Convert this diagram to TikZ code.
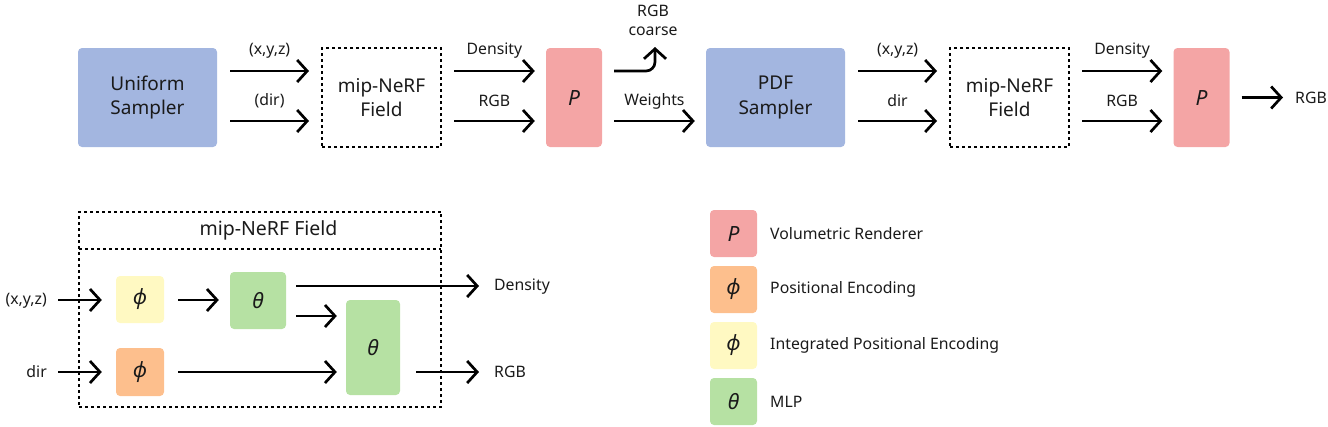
\documentclass[tikz,border=0pt]{standalone}
\usepackage{fontspec}
\setmainfont{Noto Sans}
\usetikzlibrary{arrows.meta}
\definecolor{cblue}{HTML}{A3B6E0}
\definecolor{cred}{HTML}{F4A5A5}
\definecolor{corange}{HTML}{FDBF8D}
\definecolor{cyellow}{HTML}{FFF9C2}
\definecolor{cgreen}{HTML}{B6E1A3}
\definecolor{ctext}{HTML}{1A1A1A}
\tikzset{
  box/.style={rectangle, rounded corners=4pt, draw=none, align=center, inner sep=0pt, text=ctext},
  bigtxt/.style={font=\fontsize{19}{24.5}\selectfont},
  lbl/.style={font=\fontsize{15.8}{20}\selectfont, text=ctext, inner sep=0pt, align=center},
  sym/.style={font=\fontsize{21}{24}\selectfont\itshape},
  dashbox/.style={draw=black, line width=2pt, dash pattern=on 3pt off 3pt},
  fieldbox/.style={rectangle, dashbox, align=center, inner sep=0pt, minimum width=119pt, minimum height=99pt, bigtxt, text=ctext},
  arr/.style={line width=2.7pt, -{Straight Barb[length=10pt,width=22pt]}},
}
\begin{document}
\begin{tikzpicture}[x=1pt,y=-1pt]
\useasboundingbox (0,0) rectangle (1328,426);
% ---------- top row ----------
\node[box, fill=cblue, minimum width=139pt, minimum height=99pt, bigtxt] (us) at (147.5,97.5) {Uniform\\Sampler};
\node[fieldbox] (f1) at (381.5,97.5) {mip-NeRF\\Field};
\node[box, fill=cred, minimum width=56pt, minimum height=99pt, sym] (p1) at (574,97.5) {P};
\node[box, fill=cblue, minimum width=139pt, minimum height=99pt, bigtxt] (pdf) at (775.5,97.5) {PDF\\Sampler};
\node[fieldbox] (f2) at (1009.5,97.5) {mip-NeRF\\Field};
\node[box, fill=cred, minimum width=56pt, minimum height=99pt, sym] (p2) at (1201.5,97.5) {P};

\draw[arr] ([xshift=13pt,yshift=26.5pt]us.east) -- node[lbl, midway, yshift=20pt] {(x,y,z)} ([xshift=-12pt,yshift=26.5pt]f1.west);
\draw[arr] ([xshift=13pt,yshift=-23.5pt]us.east) -- node[lbl, midway, yshift=20pt] {(dir)} ([xshift=-12pt,yshift=-23.5pt]f1.west);
\draw[arr] ([xshift=12pt,yshift=26.5pt]f1.east) -- node[lbl, midway, yshift=20pt] {Density} ([xshift=-11pt,yshift=26.5pt]p1.west);
\draw[arr] ([xshift=12pt,yshift=-23.5pt]f1.east) -- node[lbl, midway, yshift=20pt] {RGB} ([xshift=-11pt,yshift=-23.5pt]p1.west);
\coordinate (coarse) at (655,47);
\draw[arr, rounded corners=9pt] ([xshift=12pt,yshift=26.5pt]p1.east) -- (655,71) -- (coarse);
\node[lbl] (coarselbl) at (653,20) {RGB\\[-1pt]coarse};
\draw[arr] ([xshift=12pt,yshift=-23.5pt]p1.east) -- node[lbl, midway, yshift=20pt] {Weights} ([xshift=-11pt,yshift=-23.5pt]pdf.west);
\draw[arr] ([xshift=13pt,yshift=26.5pt]pdf.east) -- node[lbl, midway, yshift=20pt] {(x,y,z)} ([xshift=-12pt,yshift=26.5pt]f2.west);
\draw[arr] ([xshift=13pt,yshift=-23.5pt]pdf.east) -- node[lbl, midway, yshift=20pt] {dir} ([xshift=-12pt,yshift=-23.5pt]f2.west);
\draw[arr] ([xshift=12pt,yshift=26.5pt]f2.east) -- node[lbl, midway, yshift=20pt] {Density} ([xshift=-11pt,yshift=26.5pt]p2.west);
\draw[arr] ([xshift=12pt,yshift=-23.5pt]f2.east) -- node[lbl, midway, yshift=20pt] {RGB} ([xshift=-11pt,yshift=-23.5pt]p2.west);
\node[lbl, anchor=west] (rgbout) at (1295,97.5) {RGB};
\draw[arr] ([xshift=12pt]p2.east) -- ([xshift=-12pt]rgbout.west);

% ---------- bottom-left: field detail ----------
\node[rectangle, dashbox, minimum width=362pt, minimum height=195.5pt, inner sep=0pt] (outer) at (260,309.25) {};
\coordinate (divl) at (79,249);
\coordinate (divr) at (441,249);
\draw[dashbox] (divl) -- (divr);
\node[lbl, font=\fontsize{19.5}{22}\selectfont] (title) at (268.5,230.5) {mip-NeRF Field};

\node[box, fill=cyellow, minimum width=48pt, minimum height=47pt, sym] (phi1) at (140,299.5) {ϕ};
\node[box, fill=corange, minimum width=48pt, minimum height=48pt, sym] (phi2) at (140,372) {ϕ};
\node[box, fill=cgreen, minimum width=56pt, minimum height=57pt, sym] (th1) at (258,300.5) {θ};
\node[box, fill=cgreen, minimum width=54pt, minimum height=95pt, sym] (th2) at (373,347.5) {θ};

\node[lbl, anchor=east] (xyz) at (47,301) {(x,y,z)};
\node[lbl, anchor=east] (dir) at (47,372) {dir};
\node[lbl, anchor=west] (dens) at (494,287) {Density};
\node[lbl, anchor=west] (rgb) at (494,372) {RGB};

\draw[arr] ([xshift=11pt]xyz.east |- 0,300) -- ([xshift=-14pt]phi1.west |- 0,300);
\draw[arr] ([xshift=14pt]phi1.east |- 0,300) -- ([xshift=-11pt]th1.west |- 0,300);
\draw[arr] ([xshift=10pt]th1.east |- 0,286) -- ([xshift=-15pt]dens.west |- 0,286);
\draw[arr] ([xshift=10pt]th1.east |- 0,316) -- ([xshift=-9pt]th2.west |- 0,316);
\draw[arr] ([xshift=11pt]dir.east) -- ([xshift=-14pt]phi2.west);
\draw[arr] ([xshift=14pt]phi2.east) -- ([xshift=-9pt]th2.west |- 0,372);
\draw[arr] ([xshift=16pt]th2.east |- 0,372) -- ([xshift=-15pt]rgb.west);

% ---------- legend ----------
\node[box, fill=cred, minimum width=47pt, minimum height=47pt, sym] (l1) at (733.5,233.5) {P};
\node[box, fill=corange, minimum width=47pt, minimum height=47pt, sym] (l2) at (733.5,289.5) {ϕ};
\node[box, fill=cyellow, minimum width=47pt, minimum height=47pt, sym] (l3) at (733.5,345.5) {ϕ};
\node[box, fill=cgreen, minimum width=47pt, minimum height=47pt, sym] (l4) at (733.5,401.5) {θ};
\node[lbl, anchor=west] (t1) at (770,233.5) {Volumetric Renderer};
\node[lbl, anchor=west] (t2) at (770,289.5) {Positional Encoding};
\node[lbl, anchor=west] (t3) at (770,345.5) {Integrated Positional Encoding};
\node[lbl, anchor=west] (t4) at (770,401.5) {MLP};
\end{tikzpicture}
\end{document}
